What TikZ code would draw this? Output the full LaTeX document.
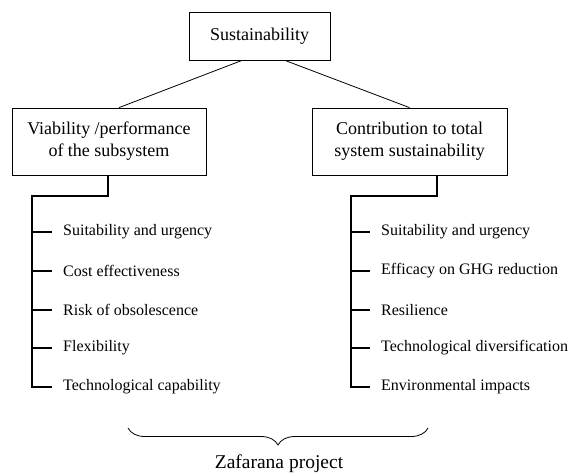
\documentclass[tikz,border=0pt]{standalone}
\usepackage{fontspec}
\setmainfont{Liberation Serif}
\usetikzlibrary{decorations.pathreplacing,calc}
\begin{document}
\begin{tikzpicture}[x=1pt,y=-1pt,
  boxnode/.style={draw,line width=0.8pt,inner sep=0pt,align=center,
    font=\fontsize{18}{22}\selectfont},
  item/.style={anchor=west,inner sep=0pt,font=\fontsize{16}{19}\selectfont},
  link/.style={line width=0.8pt},
  tree/.style={line width=1.3pt}]
\useasboundingbox (0,0) rectangle (569,475);
\node[boxnode,minimum width=141pt,minimum height=48pt] (top) at (259.5,36) {Sustainability};
\node[boxnode,minimum width=194pt,minimum height=67pt] (left) at (109,141.5) {Viability /performance\\of the subsystem};
\node[boxnode,minimum width=195pt,minimum height=67pt] (right) at (409.5,141.5) {Contribution to total\\system sustainability};
\draw[link] ([xshift=-17.5pt]top.south) -- ([xshift=10pt]left.north);
\draw[link] ([xshift=25.5pt]top.south) -- (right.north);
% left list
\node[item] (l1) at (63,232) {Suitability and urgency};
\node[item] (l2) at (63,271) {Cost effectiveness};
\node[item] (l3) at (63,310) {Risk of obsolescence};
\node[item] (l4) at (63,348) {Flexibility};
\node[item] (l5) at (63,387) {Technological capability};
\coordinate (ls) at (32,196);
\draw[tree] ([xshift=-1pt]left.south) |- (ls) |- ([xshift=-11pt]l5.west);
\foreach \i in {1,2,3,4}{\draw[tree] (ls|-l\i.west) -- ([xshift=-11pt]l\i.west);}
% right list
\node[item] (r1) at (381,232) {Suitability and urgency};
\node[item] (r2) at (381,271) {Efficacy on GHG reduction};
\node[item] (r3) at (381,310) {Resilience};
\node[item] (r4) at (381,348) {Technological diversification};
\node[item] (r5) at (381,387) {Environmental impacts};
\coordinate (rs) at (351,196);
\draw[tree] ([xshift=27.5pt]right.south) |- (rs) |- ([xshift=-11pt]r5.west);
\foreach \i in {1,2,3,4}{\draw[tree] (rs|-r\i.west) -- ([xshift=-11pt]r\i.west);}
% brace
\coordinate (bl) at (128,428);
\coordinate (br) at (428,428);
\draw[line width=0.8pt,decorate,decoration={brace,mirror,amplitude=17pt}] (bl) -- (br);
\node[font=\fontsize{19.5}{23}\selectfont] (zaf) at (279,464) {Zafarana project};
\end{tikzpicture}
\end{document}
